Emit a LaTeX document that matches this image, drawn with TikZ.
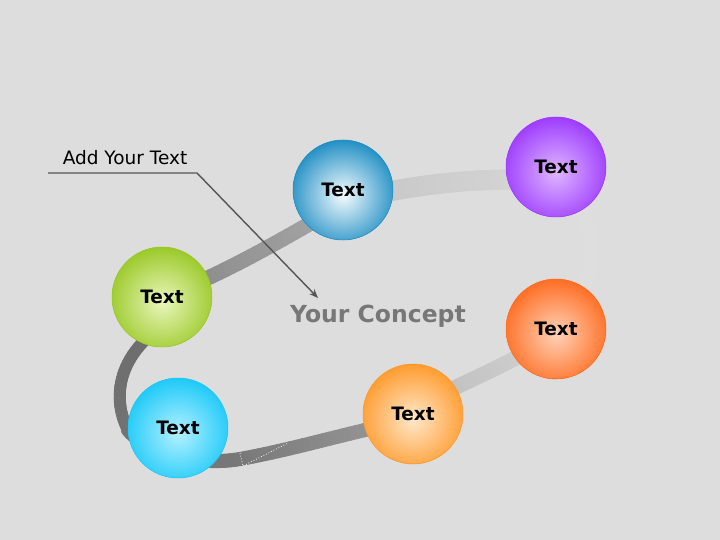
\documentclass[tikz,border=0pt]{standalone}
\usepackage{fontspec}
\setmainfont{DejaVu Sans}
\usetikzlibrary{arrows.meta}
\definecolor{bg}{HTML}{DDDDDD}
\definecolor{blueE}{HTML}{1B8CC2}\definecolor{blueI}{HTML}{F4FBFE}
\definecolor{purpE}{HTML}{9B38FF}\definecolor{purpI}{HTML}{DFB6FF}
\definecolor{grnE}{HTML}{98C824}\definecolor{grnI}{HTML}{EAF6BC}
\definecolor{redE}{HTML}{FF6A1E}\definecolor{redI}{HTML}{FFD2B8}
\definecolor{cyaE}{HTML}{18C8F8}\definecolor{cyaI}{HTML}{B4F1FF}
\definecolor{ornE}{HTML}{FF992A}\definecolor{ornI}{HTML}{FFE8CA}
\definecolor{annot}{HTML}{555555}
\definecolor{concept}{HTML}{777777}
% ribbon piece: start, c1, c2, end, colour from, colour to, width
\newcommand\ribbonpart[7]{%
  \colorlet{rcA}{#5}\colorlet{rcB}{#6}%
  \foreach \i in {0,...,23}{%
    \pgfmathsetmacro\pa{\i/24}%
    \pgfmathsetmacro\pb{(\i+1)/24}%
    \pgfmathsetmacro\mixv{100-100*\i/23}%
    \path #1 .. controls #2 and #3 .. #4 coordinate[pos=\pa] (ra) coordinate[pos=\pb] (rb);
    \draw[line width=#7pt, line cap=round, draw={rcA!\mixv!rcB}] (ra) -- (rb);
  }%
}
\begin{document}
\begin{tikzpicture}[x=1pt,y=-1pt,
  ball/.style n args={2}{circle, minimum size=100pt, inner sep=0pt,
    fill=#2, draw=#2, line width=0.5pt,
    path picture={\shade[inner color=#1, outer color=#2]
      ([yshift=-5pt]path picture bounding box.center) circle (57pt);},
    font=\bfseries\fontsize{18.5}{21}\selectfont, text=black}]
\useasboundingbox (0,0) rectangle (720,540);
\fill[bg] (0,0) rectangle (720,540);

% ribbon
\ribbonpart{(180,290)}{(230,270)}{(285,238)}{(330,212)}{black!46}{black!36}{15}
\ribbonpart{(370,195)}{(420,185)}{(470,178)}{(530,180)}{black!22}{black!17}{20}
\ribbonpart{(575,200)}{(597,235)}{(597,270)}{(575,300)}{white!4!bg}{white!4!bg}{14}
\ribbonpart{(530,350)}{(505,365)}{(470,380)}{(440,395)}{black!19}{black!24}{15}
\ribbonpart{(400,422)}{(340,435)}{(290,450)}{(240,459)}{black!40}{black!52}{14}
\ribbonpart{(240,459)}{(200,466)}{(150,455)}{(128,430)}{black!53}{black!55}{14}
\ribbonpart{(128,430)}{(115,405)}{(115,370)}{(145,340)}{black!55}{black!57}{12}
\draw[white, line width=0.8pt, dotted] (240,453) -- (243,466) -- (288,443);

% circles
\node[ball={blueI}{blueE}] (blue) at (343,190) {Text};
\node[ball={purpI}{purpE}] (purple) at (556,167) {Text};
\node[ball={grnI}{grnE}] (green) at (162,297) {Text};
\node[ball={redI}{redE}] (red) at (556,329) {Text};
\node[ball={cyaI}{cyaE}] (cyan) at (178,428) {Text};
\node[ball={ornI}{ornE}] (orange) at (413,414) {Text};

% centre text
\node[font=\bfseries\fontsize{23.5}{26}\selectfont, text=concept] (concept) at (378,316) {Your Concept};

% annotation
\node[font=\fontsize{18.5}{21}\selectfont, text=black] (addtxt) at (125,158) {Add Your Text};
\coordinate (a1) at (48,173);
\coordinate (a2) at (197,173);
\coordinate (a3) at (318,298);
\draw[annot, line width=1.4pt, -{Stealth[length=9pt,width=7pt]}] (a1) -- (a2) -- (a3);
\end{tikzpicture}
\end{document}
